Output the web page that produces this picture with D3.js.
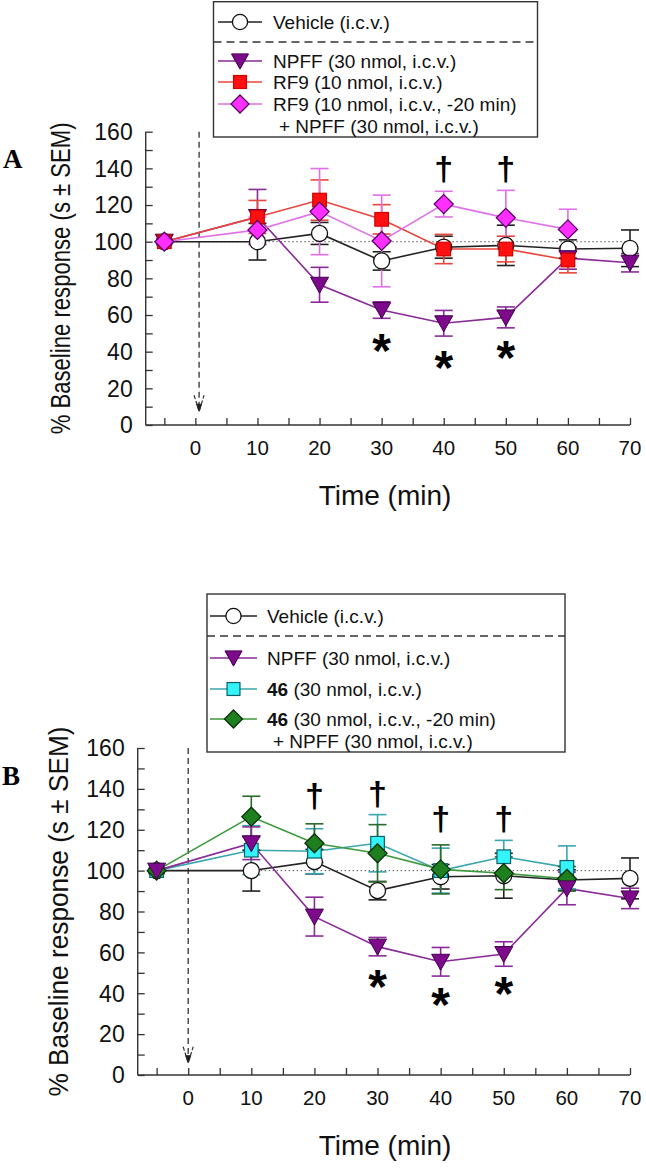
<!DOCTYPE html>
<html><head><meta charset="utf-8">
<script src="https://cdn.jsdelivr.net/npm/d3@7/dist/d3.min.js"></script>
<style>html,body{margin:0;padding:0;background:#fff}svg{display:block}</style>
</head><body>
<svg id="c" width="646" height="1171"></svg>
<script>
// ---------------- data ----------------
const times = [-5, 10, 20, 30, 40, 50, 60, 70];
const xTicks = [0, 10, 20, 30, 40, 50, 60, 70];
const yTicks = [0, 20, 40, 60, 80, 100, 120, 140, 160];

// Panel A
const vehicleA     = [100, 100, 104.5, 89.5, 97, 98, 96, 96.4];
const vehicleA_sem = [0, 10, 6, 5, 6, 11, 5, 10];
const npffA        = [100, 113.5, 76.5, 62.7, 55.5, 58.7, 91, 88.5];
const npffA_sem    = [0, 15, 9.5, 4.5, 7, 5.7, 6, 5];
const rf9A         = [100, 113.5, 122.7, 112.2, 96, 96, 90];
const rf9A_sem     = [0, 9, 11, 8, 8, 7, 7];
const rf9npffA     = [100, 106.4, 116.4, 100.4, 120.5, 113, 106.7];
const rf9npffA_sem = [0, 7, 23.5, 25, 7, 15, 11];
const daggerA = [{t: 40, v: 139}, {t: 50, v: 139}];
const starA   = [{t: 30, v: 47}, {t: 40, v: 37.6}, {t: 50, v: 43}];

// Panel B
const vehicleB     = [100, 100, 104.4, 90.2, 97, 97.5, 95.4, 96.2];
const vehicleB_sem = [0, 10, 6, 4.5, 6, 11, 5, 10];
const npffB        = [100, 113.4, 77.5, 62.8, 55.4, 59.2, 91.3, 86.4];
const npffB_sem    = [0, 8, 9.5, 4.5, 7, 6, 8, 5];
const c46B         = [100, 110, 109.5, 113.4, 100, 106.8, 101.6];
const c46B_sem     = [0, 12, 11, 14, 11, 8, 10.5];
const c46npffB     = [100, 126.4, 113.4, 108.5, 100.6, 98.7, 96];
const c46npffB_sem = [0, 10, 9.5, 14, 12, 8, 6];
const daggerB = [{t: 20, v: 136}, {t: 30, v: 137}, {t: 40, v: 124.8}, {t: 50, v: 124.8}];
const starB   = [{t: 30, v: 49}, {t: 40, v: 40.1}, {t: 50, v: 45.6}];

// ---------------- drawing ----------------
const svg = d3.select("#c");
const SANS = "'Liberation Sans', Arial, sans-serif";

const styles = {
  vehicle: {shape: "circle", fill: "#fff", stroke: "#111", line: "#222", err: "#222"},
  npff:    {shape: "tri", fill: "#7d0a8a", stroke: "#45004d", line: "#8a2a98", err: "#8a2a98"},
  rf9:     {shape: "square", fill: "#ff1010", stroke: "#d00000", line: "#e8463c", err: "#e8463c"},
  rf9npff: {shape: "diamond", fill: "#ff30ff", stroke: "#5a0064", line: "#e070ea", err: "#e070e6"},
  c46:     {shape: "square", fill: "#33f4f8", stroke: "#0b5f66", line: "#3aa6ad", err: "#3aa6ad"},
  c46npff: {shape: "diamond", fill: "#1d7f1d", stroke: "#0a300a", line: "#3c9a3c", err: "#2a6a2a"}
};

function marker(g, st, cx, cy, scale) {
  const s = scale || 1;
  if (st.shape === "circle") {
    g.append("circle").attr("cx", cx).attr("cy", cy).attr("r", 8 * s)
      .attr("fill", st.fill).attr("stroke", st.stroke).attr("stroke-width", 1.3);
  } else if (st.shape === "tri") {
    const w = 9 * s, h = 7.5 * s;
    g.append("path").attr("d", `M${cx - w},${cy - h}L${cx + w},${cy - h}L${cx},${cy + h + 1}Z`)
      .attr("fill", st.fill).attr("stroke", st.stroke).attr("stroke-width", 1);
  } else if (st.shape === "square") {
    const a = 6.8 * s;
    g.append("rect").attr("x", cx - a).attr("y", cy - a).attr("width", 2 * a).attr("height", 2 * a)
      .attr("fill", st.fill).attr("stroke", st.stroke).attr("stroke-width", 1.2);
  } else if (st.shape === "diamond") {
    const a = 9.5 * s;
    g.append("path").attr("d", `M${cx},${cy - a}L${cx + a},${cy}L${cx},${cy + a}L${cx - a},${cy}Z`)
      .attr("fill", st.fill).attr("stroke", st.stroke).attr("stroke-width", 1.3);
  }
}

function panel(cfg) {
  const x = d3.scaleLinear().domain([-8, 70]).range([cfg.x0, cfg.x1]);
  const y = d3.scaleLinear().domain([0, 160]).range([cfg.yb, cfg.yt]);
  const g = svg.append("g");

  // reference dotted line at 100
  g.append("line").attr("x1", x(-5)).attr("x2", x(70)).attr("y1", y(100)).attr("y2", y(100))
    .attr("stroke", "#555").attr("stroke-width", 1).attr("stroke-dasharray", "1.5,2.5");

  // dashed injection arrow
  const ax = x(cfg.arrowT);
  const tipY = y(cfg.arrowTipV);
  g.append("line").attr("x1", ax).attr("x2", ax).attr("y1", y(160)).attr("y2", tipY - 2)
    .attr("stroke", "#333").attr("stroke-width", 1.3).attr("stroke-dasharray", "6,4");
  g.append("path").attr("d", `M${ax - 5},${tipY - 16}L${ax},${tipY}L${ax + 5},${tipY - 16}`)
    .attr("fill", "none").attr("stroke", "#333").attr("stroke-width", 1.2).attr("stroke-dasharray", "4,2");
  g.append("path").attr("d", `M${ax - 2.5},${tipY - 7}L${ax},${tipY}L${ax + 2.5},${tipY - 7}Z`)
    .attr("fill", "#222").attr("stroke", "#222").attr("stroke-width", 1);

  // axes
  const yAxis = d3.axisLeft(y).tickValues(d3.range(0, 161, 10)).tickSize(-7).tickFormat("");
  const ga = g.append("g").attr("transform", `translate(${cfg.x0},0)`).call(yAxis);
  const xAxis = d3.axisBottom(x).tickValues(d3.range(-5, 71, 5)).tickSize(-7).tickFormat("");
  const gx = g.append("g").attr("transform", `translate(0,${cfg.yb})`).call(xAxis);
  [ga, gx].forEach(a => {
    a.select(".domain").attr("stroke", "#333").attr("stroke-width", 1.4);
    a.selectAll(".tick line").attr("stroke", "#333").attr("stroke-width", 1.3);
  });
  gx.select(".domain").attr("d", `M${cfg.x0},0H${cfg.x1}`);
  ga.select(".domain").attr("d", `M0,${cfg.yb}V${cfg.yt}`);

  // tick labels
  g.selectAll(".yl").data(yTicks).enter().append("text")
    .attr("x", cfg.x0 - 13).attr("y", d => y(d)).attr("dy", "0.36em")
    .attr("text-anchor", "end").attr("font-family", SANS).attr("font-size", 23).attr("fill", "#111")
    .text(d => d);
  g.selectAll(".xl").data(xTicks).enter().append("text")
    .attr("x", d => x(d)).attr("y", cfg.yb + 30)
    .attr("text-anchor", "middle").attr("font-family", SANS).attr("font-size", 20.5).attr("fill", "#111")
    .text(d => d);

  // axis titles
  g.append("text").attr("x", cfg.xTitleX).attr("y", cfg.yb + 80)
    .attr("text-anchor", "middle").attr("font-family", SANS).attr("font-size", 28).attr("fill", "#111")
    .text("Time (min)");
  g.append("text")
    .attr("transform", `translate(${cfg.yTitleX},${(cfg.yb + cfg.yt) / 2}) rotate(-90)`)
    .attr("text-anchor", "middle").attr("font-family", SANS).attr("font-size", 28).attr("fill", "#111")
    .attr("textLength", cfg.yTitleLen).attr("lengthAdjust", "spacingAndGlyphs")
    .text("% Baseline response (s ± SEM)");

  // panel letter
  g.append("text").attr("x", cfg.letterX).attr("y", cfg.letterY)
    .attr("font-family", "'Liberation Serif', 'Times New Roman', serif").attr("font-weight", "bold")
    .attr("font-size", 27).attr("fill", "#000").text(cfg.letter);

  // series
  const line = d3.line().x(d => x(d.t)).y(d => y(d.v));
  cfg.series.forEach(s => {
    const st = styles[s.style];
    const pts = s.values.map((v, i) => ({t: times[i], v: v, e: s.sem[i]}));
    s.pts = pts;
    g.append("path").attr("d", line(pts)).attr("fill", "none")
      .attr("stroke", st.line).attr("stroke-width", 1.6);
  });
  cfg.series.forEach(s => {
    const st = styles[s.style];
    s.pts.forEach(p => {
      if (!p.e) return;
      const cx = x(p.t);
      g.append("line").attr("x1", cx).attr("x2", cx).attr("y1", y(p.v - p.e)).attr("y2", y(p.v + p.e))
        .attr("stroke", st.err).attr("stroke-width", 1.6);
      [p.v - p.e, p.v + p.e].forEach(v => {
        g.append("line").attr("x1", cx - 9).attr("x2", cx + 9).attr("y1", y(v)).attr("y2", y(v))
          .attr("stroke", st.err).attr("stroke-width", 1.6);
      });
    });
  });
  cfg.series.forEach(s => {
    const st = styles[s.style];
    s.pts.forEach(p => marker(g, st, x(p.t), y(p.v)));
  });

  // significance marks
  cfg.daggers.forEach(d => {
    g.append("text").attr("x", x(d.t)).attr("y", y(d.v) + 10).attr("text-anchor", "middle")
      .attr("font-family", SANS).attr("font-weight", "bold").attr("font-size", 34).attr("fill", "#000").text("†");
  });
  cfg.stars.forEach(d => {
    g.append("text").attr("x", x(d.t)).attr("y", y(d.v) + 28).attr("text-anchor", "middle")
      .attr("font-family", SANS).attr("font-weight", "bold").attr("font-size", 48).attr("fill", "#000").text("*");
  });

  // legend
  const L = cfg.legend;
  const lg = svg.append("g");
  lg.append("rect").attr("x", L.x0).attr("y", L.y0).attr("width", L.x1 - L.x0).attr("height", L.y1 - L.y0)
    .attr("fill", "#fff").attr("stroke", "#333").attr("stroke-width", 1.4);
  lg.append("line").attr("x1", L.x0).attr("x2", L.x1).attr("y1", L.dashY).attr("y2", L.dashY)
    .attr("stroke", "#333").attr("stroke-width", 1.4).attr("stroke-dasharray", "8,5");
  L.rows.forEach(r => {
    const st = styles[r.style];
    lg.append("line").attr("x1", L.sx0).attr("x2", L.sx1).attr("y1", r.y).attr("y2", r.y)
      .attr("stroke", st.line).attr("stroke-width", 1.6);
    marker(lg, st, (L.sx0 + L.sx1) / 2, r.y, 0.95);
    const t = lg.append("text").attr("x", L.tx).attr("y", r.y).attr("dy", "0.36em")
      .attr("font-family", SANS).attr("font-size", 19).attr("fill", "#111");
    if (r.bold) t.append("tspan").attr("font-weight", "bold").text(r.bold);
    t.append("tspan").text(r.label);
    if (r.label2) {
      lg.append("text").attr("x", L.tx + 6).attr("y", r.y + 22).attr("dy", "0.36em")
        .attr("font-family", SANS).attr("font-size", 19).attr("fill", "#111").text(r.label2);
    }
  });
}

panel({
  letter: "A", letterX: 3, letterY: 168,
  x0: 145.7, x1: 630, yb: 425, yt: 131.7, arrowT: 0.6, arrowTipV: 7.5,
  xTitleX: 385, yTitleX: 70, yTitleLen: 312,
  series: [
    {style: "vehicle", values: vehicleA, sem: vehicleA_sem},
    {style: "npff", values: npffA, sem: npffA_sem},
    {style: "rf9", values: rf9A, sem: rf9A_sem},
    {style: "rf9npff", values: rf9npffA, sem: rf9npffA_sem}
  ],
  daggers: daggerA, stars: starA,
  legend: {
    x0: 213.5, x1: 537.5, y0: 1.7, y1: 137, dashY: 42, sx0: 218, sx1: 262, tx: 273,
    rows: [
      {style: "vehicle", y: 22, label: "Vehicle (i.c.v.)"},
      {style: "npff", y: 61, label: "NPFF (30 nmol, i.c.v.)"},
      {style: "rf9", y: 82, label: "RF9 (10 nmol, i.c.v.)"},
      {style: "rf9npff", y: 104, label: "RF9 (10 nmol, i.c.v., -20 min)", label2: "+ NPFF (30 nmol, i.c.v.)"}
    ]
  }
});

panel({
  letter: "B", letterX: 2, letterY: 785,
  x0: 137.7, x1: 630, yb: 1075, yt: 748, arrowT: 0, arrowTipV: 6,
  xTitleX: 385, yTitleX: 68, yTitleLen: 370,
  series: [
    {style: "vehicle", values: vehicleB, sem: vehicleB_sem},
    {style: "c46", values: c46B, sem: c46B_sem},
    {style: "c46npff", values: c46npffB, sem: c46npffB_sem},
    {style: "npff", values: npffB, sem: npffB_sem}
  ],
  daggers: daggerB, stars: starB,
  legend: {
    x0: 207, x1: 565, y0: 594, y1: 752, dashY: 636, sx0: 210, sx1: 257, tx: 267,
    rows: [
      {style: "vehicle", y: 616, label: "Vehicle (i.c.v.)"},
      {style: "npff", y: 658, label: "NPFF (30 nmol, i.c.v.)"},
      {style: "c46", y: 689, bold: "46", label: " (30 nmol, i.c.v.)"},
      {style: "c46npff", y: 719, bold: "46", label: " (30 nmol, i.c.v., -20 min)", label2: "+ NPFF (30 nmol, i.c.v.)"}
    ]
  }
});
</script>
</body></html>
